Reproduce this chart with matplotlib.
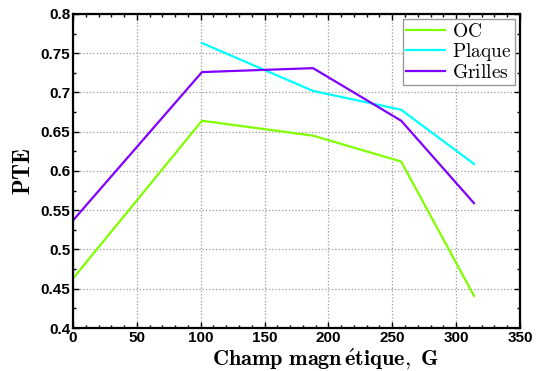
import matplotlib
matplotlib.use("Agg")
import matplotlib.pyplot as plt
from matplotlib.ticker import MultipleLocator

plt.rcParams['mathtext.fontset'] = 'cm'

field = [0, 101, 188, 257, 314]
oc = [0.463, 0.664, 0.645, 0.612, 0.441]
plaque_x = [101, 188, 257, 314]
plaque = [0.763, 0.702, 0.678, 0.609]
grilles = [0.537, 0.726, 0.731, 0.664, 0.559]

fig = plt.figure(figsize=(5.43, 3.71), dpi=100)
ax = fig.add_axes([0.1344, 0.1159, 0.8232, 0.8464])

ax.plot(field, oc, color='#80ff00', lw=1.6, label=r'$\mathrm{OC}$')
ax.plot(plaque_x, plaque, color='#00ffff', lw=1.6, label=r'$\mathrm{Plaque}$')
ax.plot(field, grilles, color='#8000ff', lw=1.6, label=r'$\mathrm{Grilles}$')

ax.set_xlim(0, 350)
ax.set_ylim(0.4, 0.8)
ax.xaxis.set_major_locator(MultipleLocator(50))
ax.xaxis.set_minor_locator(MultipleLocator(10))
ax.yaxis.set_minor_locator(MultipleLocator(0.025))
ax.set_yticks([0.4, 0.45, 0.5, 0.55, 0.6, 0.65, 0.7, 0.75, 0.8])
ax.set_yticklabels(['0.4', '0.45', '0.5', '0.55', '0.6', '0.65', '0.7', '0.75', '0.8'])
ax.tick_params(which='both', direction='in', top=True, right=True)
ax.tick_params(which='major', length=4, width=1, pad=2)
ax.tick_params(which='minor', length=2, width=1)
for lab in ax.get_xticklabels() + ax.get_yticklabels():
    lab.set_family('Liberation Sans')
    lab.set_fontsize(11)
    lab.set_fontweight('bold')
for s in ax.spines.values():
    s.set_linewidth(1.6)
ax.grid(True, which='major', linestyle=':', color='#999999', linewidth=0.9)

ax.set_xlabel(r'$\mathbf{Champ\ magn\,\acute{e}tique,\ G}$', fontsize=16)
ax.xaxis.set_label_coords(0.564, -0.058, transform=ax.transAxes)
ax.xaxis.label.set_va('top')
ax.set_ylabel(r'$\mathbf{PTE}$', fontsize=16.5, labelpad=4)

leg = ax.legend(loc='upper right', fontsize=14, frameon=True, fancybox=False,
                framealpha=1, edgecolor='#999999', handlelength=2.0,
                bbox_to_anchor=(0.988, 0.985),
                borderaxespad=0.0, labelspacing=0.0, borderpad=0.15, handletextpad=0.4)
leg.get_frame().set_linewidth(1.0)

fig.savefig('out.png', dpi=100)
